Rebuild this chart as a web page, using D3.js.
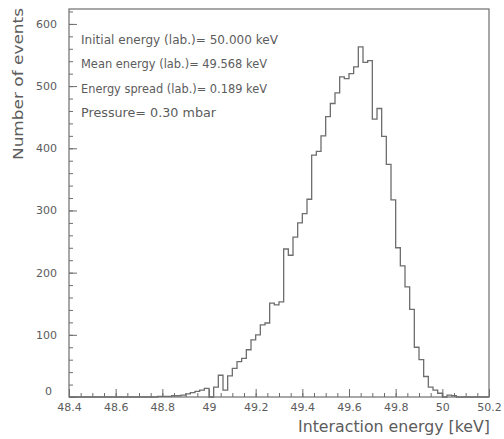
<!DOCTYPE html>
<html>
<head>
<meta charset="utf-8">
<script src="https://cdn.jsdelivr.net/npm/d3@7"></script>
<style>
  body { margin: 0; background: #fff; }
  svg text { font-family: "DejaVu Sans", sans-serif; fill: #5c5c5c; }
</style>
</head>
<body>
<svg id="chart" width="504" height="439"></svg>
<script>
// Histogram of interaction energies: 90 bins of 0.02 keV from 48.4 to 50.2 keV
const binLow = 48.4;
const binWidth = 0.02;
const counts = [
  0, 0, 0, 0, 0, 0, 0, 0, 0, 0,
  0, 0, 0, 0, 0, 0, 0, 0, 0, 1,
  1, 1, 2, 2, 3, 5, 7, 9, 11, 14,
  0, 16, 35, 11, 34, 46, 57, 62, 76, 92,
  100, 116, 119, 151, 148, 153, 238, 228, 257, 280,
  295, 318, 389, 395, 420, 451, 472, 489, 515, 512,
  520, 531, 563, 538, 541, 447, 464, 419, 374, 317,
  240, 211, 177, 141, 80, 60, 33, 16, 11, 6,
  0, 3, 2, 0, 0, 0, 0, 0, 0, 0
];

const xTickValues = [48.4, 48.6, 48.8, 49.0, 49.2, 49.4, 49.6, 49.8, 50.0, 50.2];
const xTickLabels = ["48.4", "48.6", "48.8", "49", "49.2", "49.4", "49.6", "49.8", "50", "50.2"];
const yTickValues = [0, 100, 200, 300, 400, 500, 600];
const infoLines = [
  "Initial energy (lab.)= 50.000 keV",
  "Mean energy (lab.)= 49.568 keV",
  "Energy spread (lab.)= 0.189 keV",
  "Pressure= 0.30 mbar"
];
const xTitle = "Interaction energy [keV]";
const yTitle = "Number of events";

const svg = d3.select("#chart");
const lineColor = "#6e6e6e";

const x = d3.scaleLinear().domain([48.4, 50.2]).range([69, 489]);
const y = d3.scaleLinear().domain([0, 624]).range([397, 9]);

// Step outline of the histogram
const bins = counts.map((c, i) => ({ lo: binLow + i * binWidth, hi: binLow + (i + 1) * binWidth, c }));
const pts = [[x(bins[0].lo), y(0)]];
bins.forEach(b => { pts.push([x(b.lo), y(b.c)]); pts.push([x(b.hi), y(b.c)]); });
pts.push([x(bins[bins.length - 1].hi), y(0)]);
svg.append("path")
  .attr("d", d3.line()(pts))
  .attr("fill", "none")
  .attr("stroke", lineColor)
  .attr("stroke-width", 1.3);

// Minor ticks (inward)
const xMinor = d3.range(0, 37).map(i => 48.4 + i * 0.05);
const yMinor = d3.range(0, 32).map(i => i * 20);

svg.append("g").attr("transform", `translate(0,${y(0)})`)
  .call(d3.axisBottom(x).tickValues(xMinor).tickSize(-4).tickFormat(""))
  .call(g => g.select(".domain").remove());
svg.append("g").attr("transform", `translate(${x(48.4)},0)`)
  .call(d3.axisLeft(y).tickValues(yMinor).tickSize(-4).tickFormat(""))
  .call(g => g.select(".domain").remove());

// Major ticks with labels
const xAxis = svg.append("g").attr("transform", `translate(0,${y(0)})`)
  .call(d3.axisBottom(x).tickValues(xTickValues).tickSize(-8).tickPadding(6)
    .tickFormat((d, i) => xTickLabels[i]))
  .call(g => g.select(".domain").remove());
xAxis.selectAll("text").style("font-size", "11px");

const yAxis = svg.append("g").attr("transform", `translate(${x(48.4)},0)`)
  .call(d3.axisLeft(y).tickValues(yTickValues).tickSize(-8).tickPadding(12))
  .call(g => g.select(".domain").remove());
yAxis.selectAll("text").style("font-size", "11px");
yAxis.selectAll(".tick").filter(d => d === 0).select("text")
  .attr("x", -17).attr("dy", "-0.2em");

svg.selectAll(".tick line").attr("stroke", lineColor).attr("stroke-width", 1);
svg.selectAll(".tick text").attr("fill", "#5c5c5c").attr("font-family", "DejaVu Sans, sans-serif");

// Frame
svg.append("rect")
  .attr("x", x(48.4)).attr("y", y(624))
  .attr("width", x(50.2) - x(48.4)).attr("height", y(0) - y(624))
  .attr("fill", "none").attr("stroke", lineColor).attr("stroke-width", 1.2);

// Run information
const infoWidths = [197, 186, 186, 135];
svg.append("g").selectAll("text").data(infoLines).join("text")
  .attr("x", 81)
  .attr("y", (d, i) => 44 + i * 24.3)
  .attr("textLength", (d, i) => infoWidths[i])
  .attr("lengthAdjust", "spacingAndGlyphs")
  .style("font-size", "11.5px")
  .text(d => d);

// Axis titles
svg.append("text")
  .attr("x", 490).attr("y", 432)
  .attr("text-anchor", "end")
  .attr("textLength", 192).attr("lengthAdjust", "spacingAndGlyphs")
  .style("font-size", "15px")
  .text(xTitle);

svg.append("text")
  .attr("transform", "translate(23,84) rotate(-90)")
  .attr("text-anchor", "middle")
  .attr("textLength", 152).attr("lengthAdjust", "spacingAndGlyphs")
  .style("font-size", "14px")
  .text(yTitle);
</script>
</body>
</html>
